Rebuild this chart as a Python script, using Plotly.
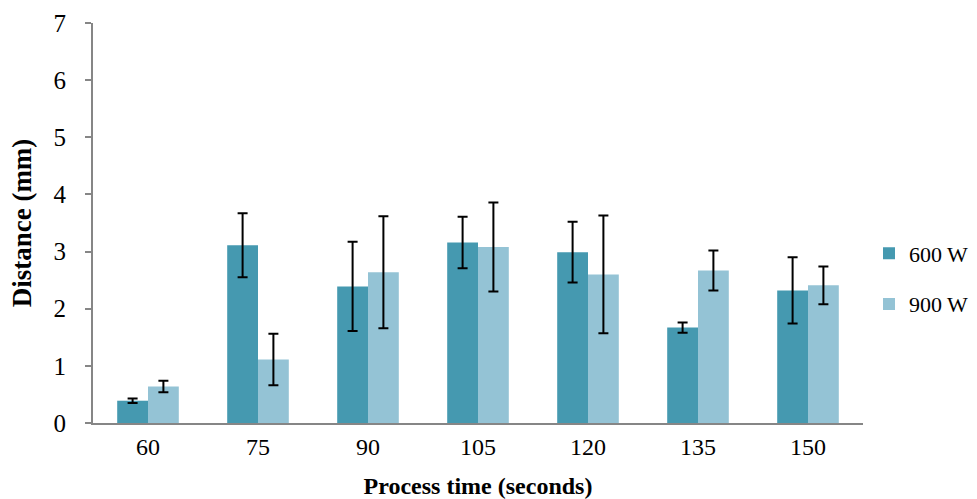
import plotly.graph_objects as go

# Process time categories (seconds)
times = ["60", "75", "90", "105", "120", "135", "150"]

# Mean distance (mm) and error for each power setting
dist_600 = [0.39, 3.11, 2.39, 3.16, 2.99, 1.67, 2.32]
err_600 = [0.04, 0.56, 0.78, 0.45, 0.53, 0.09, 0.58]
dist_900 = [0.64, 1.11, 2.64, 3.08, 2.60, 2.67, 2.41]
err_900 = [0.10, 0.45, 0.98, 0.78, 1.03, 0.35, 0.33]

font_family = "Liberation Serif, Times New Roman, serif"

W, H = 977, 499

def err(arr):
    return dict(type="data", array=arr, visible=True, color="black",
                thickness=2, width=5)

fig = go.Figure()
fig.add_trace(go.Bar(x=times, y=dist_600, name="600 W", legendgroup="a",
                     marker=dict(color="#4599B0", line=dict(width=0)),
                     error_y=err(err_600)))
fig.add_trace(go.Bar(x=times, y=dist_900, name="900 W", legendgroup="b",
                     marker=dict(color="#94C3D5", line=dict(width=0)),
                     error_y=err(err_900)))

fig.update_layout(
    width=W, height=H,
    margin=dict(l=93, r=114, t=23, b=76, autoexpand=False),
    plot_bgcolor="white", paper_bgcolor="white",
    barmode="group", bargap=0.44, bargroupgap=0,
    font=dict(family=font_family, size=24, color="black"),
    showlegend=True,
    legend=dict(xref="container", yref="container",
                x=869 / W, y=1 - 279 / H, xanchor="left", yanchor="middle",
                font=dict(size=22), traceorder="grouped",
                tracegroupgap=19, bgcolor="rgba(0,0,0,0)",
                itemwidth=30, borderwidth=0),
    xaxis=dict(
        title=dict(text="<b>Process time (seconds)</b>", font=dict(size=24), standoff=22),
        showline=True, linecolor="#868686", linewidth=2,
        ticks="", showgrid=False, tickfont=dict(size=24),
        ticklabelstandoff=1, automargin=False,
    ),
    yaxis=dict(
        title=dict(text="<b>Distance (mm)</b>", font=dict(size=27), standoff=14),
        range=[0, 7], dtick=1, showline=True, linecolor="#868686", linewidth=2,
        ticks="outside", ticklen=6, tickcolor="#868686", tickwidth=1.5,
        showgrid=False, zeroline=False, tickfont=dict(size=25),
        ticklabelstandoff=14, automargin=False,
    ),
)

fig.write_html("out.html")
